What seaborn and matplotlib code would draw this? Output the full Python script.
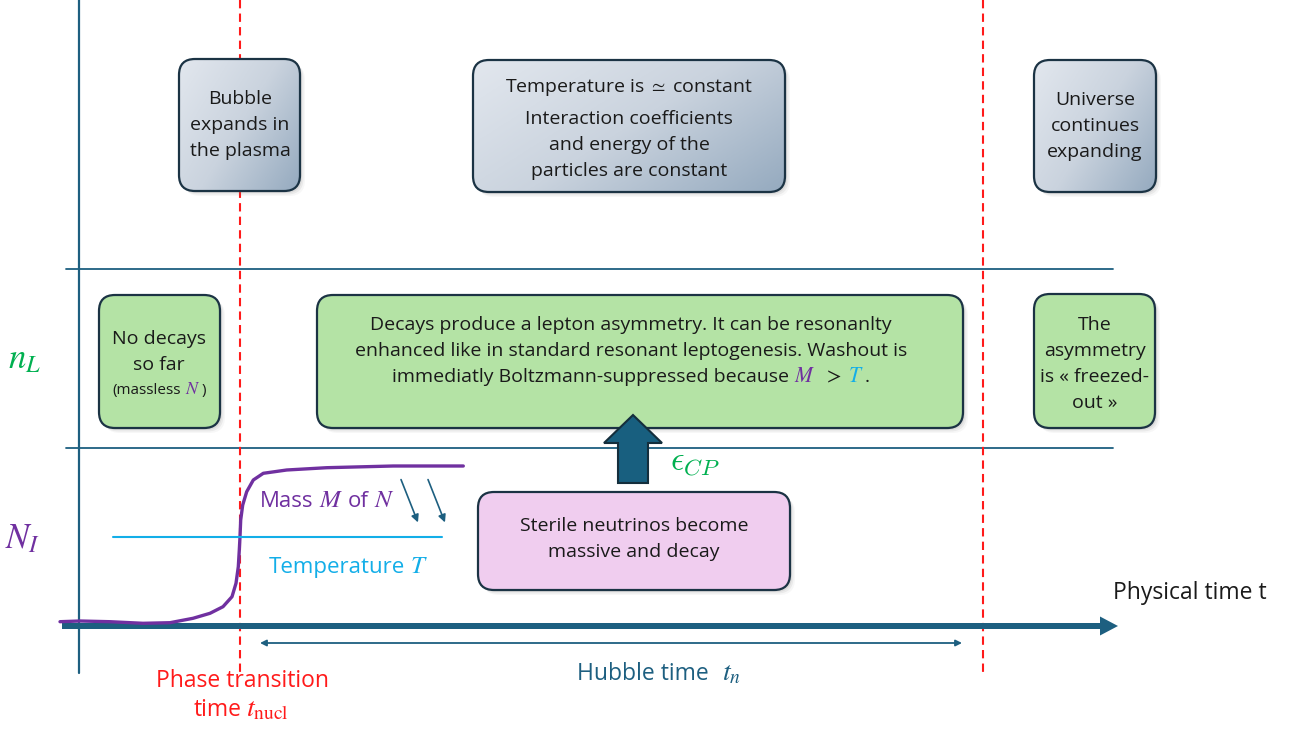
import numpy as np
import matplotlib
matplotlib.use("Agg")
import matplotlib.pyplot as plt
from matplotlib.patches import FancyBboxPatch, FancyArrow
from matplotlib.colors import LinearSegmentedColormap
import seaborn as sns

# Mass of the sterile neutrino along the time axis (pixel units)
mass_x = [60, 80, 110, 143, 170, 193, 210, 223, 232, 236, 238.3, 239.3, 240, 240.7,
          242.7, 246.7, 253.3, 263.3, 286.7, 326.7, 393.3, 463.3]
mass_y = [621.7, 621, 621.7, 623.3, 622.7, 618.3, 613.3, 606.7, 596.7, 583.3, 566.7,
          550, 536.7, 520, 505, 491.7, 480, 473.3, 470, 467.7, 466, 466]
temp_x = [113, 442]
temp_y = [537, 537]

bubble_lines = ["Bubble", "expands in", "the plasma"]
temp_lines = ["Temperature is $\\simeq$ constant", "Interaction coefficients",
              "and energy of the", "particles are constant"]
universe_lines = ["Universe", "continues", "expanding"]
nodecay_lines = ["No decays", "so far"]
decay_lines = ["Decays produce a lepton asymmetry. It can be resonanlty",
               "enhanced like in standard resonant leptogenesis. Washout is"]
freeze_lines = ["The", "asymmetry", "is « freezed-", "out »"]
pink_lines = ["Sterile neutrinos become", "massive and decay"]

DARK = "#1d5f80"
EDGE = "#1b3344"
TXT = "#1a1a1a"
GREEN_TXT = "#00b050"
PURPLE = "#7030a0"
CYAN = "#13aee8"
RED = "#ff1a1a"

sns.set_theme(style="white")
plt.rcParams["font.family"] = ["Open Sans", "DejaVu Sans"]
plt.rcParams["mathtext.fontset"] = "stix"

fig = plt.figure(figsize=(12.96, 7.31), dpi=100)
ax = fig.add_axes([0, 0, 1, 1])
ax.set_xlim(0, 1296)
ax.set_ylim(731, 0)
ax.axis("off")

grad_cmap = LinearSegmentedColormap.from_list("grad", ["#e2e7ee", "#cad3de", "#95aabf"])


def box(x0, y0, x1, y1, fill=None, gradient=False, r=16):
    # soft shadow
    for k, a in [(5, 0.06), (3.5, 0.10), (2, 0.14)]:
        sh = FancyBboxPatch((x0 + r + k, y0 + r + k), x1 - x0 - 2 * r, y1 - y0 - 2 * r,
                            boxstyle=f"round,pad={r}", fc="#7a7a7a", ec="none",
                            alpha=a, zorder=2)
        ax.add_patch(sh)
    p = FancyBboxPatch((x0 + r, y0 + r), x1 - x0 - 2 * r, y1 - y0 - 2 * r,
                       boxstyle=f"round,pad={r}", fc=fill if fill else "none",
                       ec=EDGE, lw=1.6, zorder=4)
    ax.add_patch(p)
    if gradient:
        n = 100
        u, v = np.meshgrid(np.linspace(0, 1, n), np.linspace(0, 1, n))
        z = 0.6 * u + 0.4 * v
        im = ax.imshow(z, extent=(x0, x1, y1, y0), origin="upper", cmap=grad_cmap,
                       aspect="auto", zorder=3, interpolation="bilinear")
        clip = FancyBboxPatch((x0 + r, y0 + r), x1 - x0 - 2 * r, y1 - y0 - 2 * r,
                              boxstyle=f"round,pad={r}", fc="none", ec="none",
                              transform=ax.transData)
        im.set_clip_path(clip)


def lines(xc, baselines, texts, size=14, color=TXT):
    for yb, s in zip(baselines, texts):
        ax.text(xc, yb, s, ha="center", va="baseline", fontsize=size, color=color,
                zorder=6)


def colored_line(xc, y, pieces):
    # pieces: (string, colour, fontsize, gap after); centred on xc, baseline y
    r = fig.canvas.get_renderer()
    arts, widths = [], []
    for s, c, size, gap in pieces:
        t = ax.text(0, y, s, color=c, fontsize=size, va="baseline", ha="left", zorder=6)
        w = t.get_window_extent(renderer=r).width
        arts.append(t)
        widths.append(w + gap)
    x = xc - sum(widths) / 2
    for t, w in zip(arts, widths):
        t.set_x(x)
        x += w


# frame lines
ax.plot([79, 79], [0, 673], color=DARK, lw=1.6, zorder=1)
ax.plot([66, 1113], [269, 269], color=DARK, lw=1.3, zorder=1)
ax.plot([66, 1113], [448, 448], color=DARK, lw=1.3, zorder=1)
for xv in [240, 983]:
    ax.plot([xv, xv], [0, 672], color=RED, lw=1.5, ls=(0, (4, 2.5)), zorder=1)

# top row boxes
box(179, 59, 300, 191, gradient=True)
box(473, 60, 785, 192, gradient=True)
box(1034, 60, 1156, 192, gradient=True)
lines(240, [104, 130, 156], bubble_lines)
lines(629, [91.5, 124, 150, 176], temp_lines)
lines(1095, [105, 131, 157], universe_lines)

# middle row boxes
GREEN = "#b4e3a5"
box(99, 295, 220, 428, fill=GREEN)
box(317, 295, 963, 428, fill=GREEN)
box(1034, 294, 1155, 428, fill=GREEN)
lines(159, [344, 370.5], nodecay_lines)
colored_line(159, 394, [("(massless", TXT, 11, 4), ("$N$", PURPLE, 13, 1),
                        (")", TXT, 11, 0)])
lines(631, [330.5, 356.5], decay_lines)
colored_line(631, 382.5, [("immediatly Boltzmann-suppressed because", TXT, 14, 5),
                          ("$M$", PURPLE, 15.5, 7), ("$>$", TXT, 15.5, 7),
                          ("$T$", CYAN, 15.5, 1), (".", TXT, 14, 0)])
lines(1095, [330, 356, 382, 408], freeze_lines)

# pink box
box(478, 492, 790, 590, fill="#f0cdef")
lines(634, [531, 557], pink_lines)

# up arrow from decays to asymmetry
ax.add_patch(FancyArrow(633, 483, 0, -68, width=30, head_width=58, head_length=28,
                        length_includes_head=True, fc="#185f7f", ec="#142e3c",
                        lw=1.5, zorder=7))
ax.text(670, 470, "$\\epsilon_{CP}$", color=GREEN_TXT, fontsize=24, va="baseline",
        ha="left", zorder=6, math_fontfamily="cm")

# side labels
ax.text(24, 368, "$n_L$", color=GREEN_TXT, fontsize=25, ha="center", va="baseline")
ax.text(23, 548, "$N_I$", color=PURPLE, fontsize=25, ha="center", va="baseline")

# mass and temperature curves
sns.lineplot(x=mass_x, y=mass_y, ax=ax, color=PURPLE, lw=2.4, sort=False,
             estimator=None, zorder=5)
sns.lineplot(x=temp_x, y=temp_y, ax=ax, color=CYAN, lw=1.5, sort=False,
             estimator=None, zorder=5)
colored_line(327.5, 507, [("Mass", PURPLE, 16, 5), ("$M$", PURPLE, 18, 5),
                          ("of", PURPLE, 16, 5), ("$N$", PURPLE, 18, 0)])
colored_line(348.5, 573, [("Temperature", CYAN, 16, 5), ("$T$", CYAN, 18, 0)])
for xs in [400, 427]:
    ax.annotate("", xy=(xs + 19, 525), xytext=(xs, 477),
                arrowprops=dict(arrowstyle="-|>", color=DARK, lw=1.2, mutation_scale=11))

# time axis
ax.add_patch(FancyArrow(62, 626, 1056, 0, width=6, head_width=19, head_length=18,
                        length_includes_head=True, fc=DARK, ec=DARK, lw=0, zorder=4))
ax.text(1113, 599, "Physical time t", color=TXT, fontsize=16.5, ha="left",
        va="baseline")
ax.annotate("", xy=(260, 643), xytext=(962, 643),
            arrowprops=dict(arrowstyle="<|-|>", color=DARK, lw=1.3, mutation_scale=9,
                            shrinkA=0, shrinkB=0))
colored_line(659, 680, [("Hubble time", DARK, 16.5, 14), ("$t_n$", DARK, 20, 0)])
colored_line(242, 687, [("Phase transition", RED, 16.5, 0)])
colored_line(241, 716, [("time", RED, 16.5, 4), ("$t_{\\mathrm{nucl}}$", RED, 20, 0)])

ax.set_xlim(0, 1296)
ax.set_ylim(731, 0)
fig.savefig("out.png", dpi=100, facecolor="white")
